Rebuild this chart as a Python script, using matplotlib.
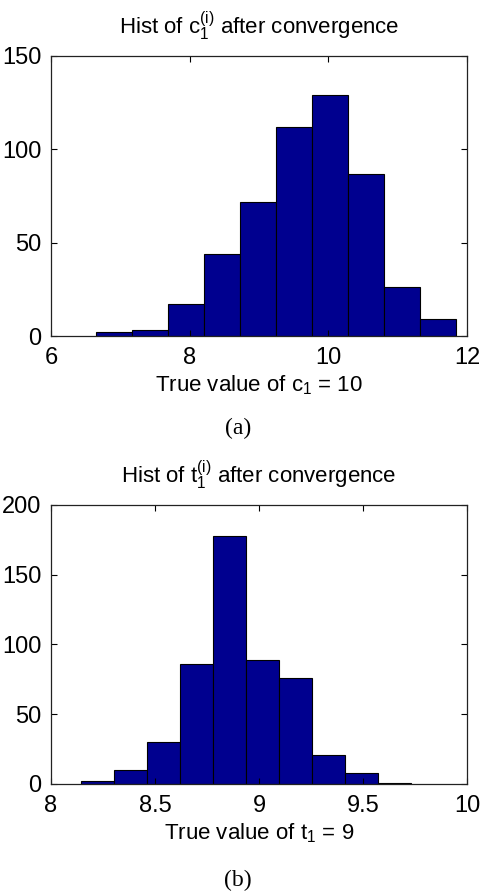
import numpy as np
import matplotlib
matplotlib.use("Agg")
import matplotlib.pyplot as plt

plt.rcParams['font.family'] = ['Liberation Sans', 'DejaVu Sans']
plt.rcParams['mathtext.fontset'] = 'custom'
plt.rcParams['mathtext.rm'] = 'Liberation Sans'
plt.rcParams['mathtext.it'] = 'Liberation Sans'
plt.rcParams['mathtext.bf'] = 'Liberation Sans:bold'

# Panel (a): histogram of c1
c1_edges_start = 6.649
c1_bin_width = 0.519
c1_counts = [2, 3, 17, 44, 72, 112, 129, 87, 26, 9]
c1_xticks = [6, 8, 10, 12]
c1_yticks = [0, 50, 100, 150]

# Panel (b): histogram of t1
t1_edges_start = 8.144
t1_bin_width = 0.1588
t1_counts = [2, 10, 30, 86, 178, 89, 76, 21, 8, 1]
t1_xticks = [8, 8.5, 9, 9.5, 10]
t1_xticklabels = ['8', '8.5', '9', '9.5', '10']
t1_yticks = [0, 50, 100, 150, 200]

fig = plt.figure(figsize=(4.81, 8.93), dpi=100)

def draw(ax, start, width, counts, xlim, ylim, xticks, xtl, yticks, title, xlabel):
    edges = start + width * np.arange(len(counts) + 1)
    ax.bar(edges[:-1], counts, width=width, align='edge',
           color='#00008f', edgecolor='black', linewidth=0.8)
    ax.set_xlim(*xlim)
    ax.set_ylim(*ylim)
    ax.set_xticks(xticks)
    ax.set_xticklabels(xtl)
    ax.set_yticks(yticks)
    ax.tick_params(direction='in', length=4, width=0.8, top=True, right=True,
                   labelsize=17)
    ax.tick_params(axis='x', pad=8)
    ax.tick_params(axis='y', pad=7)
    for s in ax.spines.values():
        s.set_linewidth(0.9)
        s.set_color('#222222')
    ax.set_title(title, fontsize=16, pad=16)
    ax.set_xlabel(xlabel, fontsize=16, labelpad=3)

ax1 = fig.add_axes([0.106, 0.6237, 0.865, 0.3136])
draw(ax1, c1_edges_start, c1_bin_width, c1_counts, (6, 12), (0, 150),
     c1_xticks, [str(v) for v in c1_xticks], c1_yticks,
     r'Hist of $\mathregular{c_1^{(i)}}$ after convergence',
     r'True value of $\mathregular{c_1}$ = 10')

ax2 = fig.add_axes([0.106, 0.1221, 0.865, 0.3124])
draw(ax2, t1_edges_start, t1_bin_width, t1_counts, (8, 10), (0, 200),
     t1_xticks, t1_xticklabels, t1_yticks,
     r'Hist of $\mathregular{t_1^{(i)}}$ after convergence',
     r'True value of $\mathregular{t_1}$ = 9')

fig.text(0.495, 1 - 428 / 893, '(a)', ha='center', va='center',
         fontsize=17, family='Liberation Serif')
fig.text(0.495, 1 - 880 / 893, '(b)', ha='center', va='center',
         fontsize=17, family='Liberation Serif')

fig.savefig('out.png', dpi=100)
